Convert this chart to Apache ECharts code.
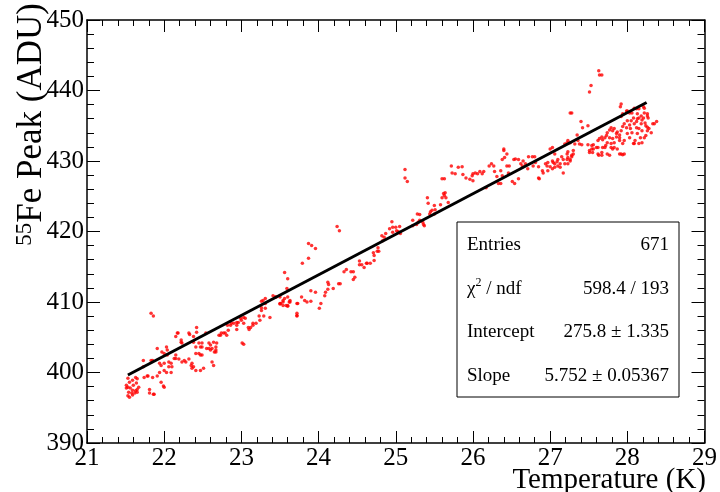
<!DOCTYPE html>
<html><head><meta charset="utf-8">
<script src="https://cdn.jsdelivr.net/npm/echarts@6/dist/echarts.min.js"></script>
<style>html,body{margin:0;padding:0;background:#fff}#c{width:720px;height:492px}</style>
</head><body><div id="c"></div>
<script>
// ---- data (Temperature K, 55Fe peak ADU) ----
const pts21to23 = [[21.53,399.2],[21.55,398.6],[21.59,398.9],[21.63,399.3],[21.65,399.1],[21.64,398.5],[21.60,398.2],[21.53,397.9],[21.51,397.8],[21.56,397.8],[21.59,397.5],[21.63,397.4],[21.65,397.6],[21.54,397.2],[21.58,397.1],[21.62,397.1],[21.65,397.2],[21.53,396.7],[21.55,396.5],[21.59,396.8],[21.67,397.9],[21.51,398.2],[21.74,399.3],[21.78,399.5],[21.85,399.3],[21.73,400.8],[21.81,397.1],[21.86,396.9],[21.91,399.5],[21.94,400.0],[21.96,398.6],[21.99,398.1],[21.91,403.4],[21.97,402.9],[22.03,403.6],[22.04,402.5],[21.83,401.7],[21.94,401.3],[22.00,400.3],[22.03,400.0],[22.06,400.8],[22.09,400.0],[22.06,401.5],[22.13,402.0],[22.15,405.1],[22.18,405.6],[22.22,404.6],[22.23,404.2],[22.15,402.5],[22.19,401.9],[22.23,401.5],[22.28,401.5],[22.32,405.6],[22.38,405.1],[22.42,406.4],[22.42,405.7],[22.54,405.6],[22.36,401.3],[22.38,400.8],[22.41,402.7],[22.45,402.7],[22.47,402.5],[22.45,404.2],[22.49,404.2],[22.47,403.6],[22.51,400.6],[22.55,403.4],[22.60,403.9],[22.62,403.4],[22.67,402.9],[22.68,404.2],[22.73,405.3],[22.77,405.6],[22.81,405.3],[22.83,406.0],[22.86,406.7],[22.35,401.0],[22.32,401.9],
[21.83,408.4],[21.86,408.0],[22.33,405.4],[22.58,404.2],[22.64,404.3],[22.67,403.6],[22.71,405.3],[22.74,405.6],[22.79,405.6],[22.82,406.7],[22.87,407.0],[22.94,406.1],[22.94,407.1],[22.99,407.7],[22.62,401.5],[22.64,401.0],[22.60,403.2],[22.47,400.3],[22.41,400.3],[22.36,400.6],[22.26,401.7],[22.15,402.0],[22.09,401.3],[22.10,400.8],[22.00,401.3],[21.96,401.0],[22.00,402.7],[22.04,403.2],[22.22,404.3],[22.17,405.6],[22.38,404.3],[22.41,403.6],[22.49,403.6],[22.49,402.5],[22.58,403.4],[22.65,402.9],[22.67,403.2],[21.73,401.7],[21.85,401.7],[21.79,399.5],[22.00,397.9],[21.81,397.6],[21.87,396.9],[22.90,407.0],[22.94,406.7],[22.96,407.1]];
const pts23to25 = [[23.03,407.8],[23.05,407.7],[23.09,406.4],[23.10,406.1],[23.15,406.7],[23.19,407.0],[23.01,404.2],[23.03,404.0],[23.24,407.4],[23.29,408.0],[23.37,407.8],[23.26,409.2],[23.31,409.8],[23.50,409.7],[23.54,410.0],[23.60,409.5],[23.63,410.0],[23.72,408.1],[23.72,408.4],[23.73,409.8],
[23.00,407.4],[23.03,407.0],[23.12,406.4],[23.15,407.0],[23.23,408.0],[23.26,408.8],[23.31,409.1],[23.28,410.2],[23.31,410.5],[23.26,410.1],[23.41,410.9],[23.44,410.7],[23.45,410.7],[23.50,410.7],[23.51,409.8],[23.54,410.2],[23.56,414.2],[23.60,413.3],[23.59,411.9],[23.60,410.7],[23.63,410.2],[23.62,410.0],[23.58,409.5],[23.54,409.5],[23.50,409.8],[23.72,409.8],[23.72,408.0],[23.78,410.7],[23.82,410.2],[23.85,410.0],[23.90,410.1],[23.79,415.5],[23.87,416.2],[23.90,411.6],[23.96,411.4],[24.03,409.8],[24.01,409.1],[24.08,410.9],[24.09,411.4],[24.12,411.8],[24.12,412.8],[24.13,412.5],[24.19,411.9],[24.26,412.6],[24.28,412.6],[24.33,414.3],[24.36,414.6],[24.42,414.3],[24.45,414.3],[24.47,413.5],[24.45,413.2],[24.53,415.8],[24.53,415.3],[24.56,415.3],[24.63,415.5],[24.67,415.5],[24.72,415.9],[24.59,414.9],[24.72,416.6],[24.71,417.0],[24.78,417.2],
[24.24,420.7],[24.27,420.1],[23.87,418.3],[23.91,418.0],[23.96,417.6],[23.56,410.5],[23.60,409.4],[24.62,415.5],[24.76,417.2],[24.77,417.7],[24.82,419.4],[24.85,419.2],[24.87,419.7],[24.83,418.7],[24.95,421.4],[24.92,420.4],[24.96,419.9],[24.96,420.6]];
const pts25to27 = [[25.01,420.1],[25.05,420.7],[25.00,420.6],[25.22,420.8],[25.22,421.6],[25.27,421.0],[25.35,421.3],[25.37,420.8],[25.31,421.6],[25.03,420.0],[25.06,419.7],[25.28,422.5],[25.31,422.4],[25.29,421.3],[25.36,421.0],[25.41,424.8],[25.42,424.0],[25.45,422.8],[25.44,422.5],[25.47,423.0],[25.50,423.7],[25.51,423.1],[25.50,422.5],[25.58,423.8],[25.60,424.8],[25.63,425.1],[25.64,425.5],[25.62,425.4],[25.65,424.8],[25.68,424.1],[25.60,427.5],[25.63,427.5],[25.12,428.8],[25.12,427.6],[25.15,427.1],[25.72,429.3],[25.73,428.3],[25.77,428.2],[25.81,429.1],[25.86,429.2],[25.87,428.1],[25.91,427.6],[25.96,427.4],[25.99,427.9],[26.00,427.2],[26.00,428.2],[26.03,428.3],[26.06,428.2],[26.09,428.5],[26.12,428.2],[26.14,428.5],[26.17,426.2],[26.21,429.3],[26.24,429.6],[26.27,429.3],[26.28,428.5],[26.31,427.8],[26.33,426.8],[26.36,426.8],[26.36,428.6],[26.38,427.9],[26.38,430.2],[26.41,430.5],[26.44,431.0],[26.44,429.3],[26.46,428.3],[26.47,429.3],[26.51,427.1],[26.54,426.8],[26.59,427.5],[26.53,430.2],[26.55,430.3],[26.59,430.2],[26.62,429.6],[26.64,429.3],[26.65,430.0],[26.68,429.6],[26.71,428.9],[26.72,430.6],[26.77,430.6],[26.80,430.6],[26.78,429.3],[26.81,429.8],[26.85,429.2],[26.85,427.6],[26.86,427.5],[26.90,428.6],[26.91,428.3],[26.94,429.6],[26.96,429.3],[26.97,428.6],[26.97,429.8],[26.40,431.5],[26.40,431.7]];
const pts27to29 = [[27.00,429.2],[27.03,430.0],[27.04,429.8],[27.06,429.6],[27.09,429.9],[27.10,430.2],[27.13,429.6],[27.15,430.6],[27.17,430.2],[27.19,429.6],[27.17,428.3],[27.22,431.0],[27.23,431.3],[27.26,430.2],[27.28,430.6],[27.30,431.0],[27.30,431.5],[27.51,431.2],[27.23,429.6],[27.10,429.3],[27.06,429.1],[27.03,428.9],[27.00,431.7],[27.03,431.9],[27.19,432.4],[27.22,432.6],[27.26,432.6],[27.32,432.4],[27.38,432.4],[27.49,432.3],[27.54,432.2],[27.55,431.2],[27.54,431.7],[27.23,432.9],[27.36,432.9],
[27.63,442.8],[27.64,442.2],[27.67,442.2],[27.53,440.7],[27.51,439.8],[27.26,436.8],[27.28,436.8],[27.40,435.6],[27.49,435.0],[27.42,434.7],[27.35,433.7],[27.41,432.3],[27.56,432.3],[27.51,431.5],[27.56,431.7],[27.62,431.9],[27.62,432.9],[27.64,433.2],[27.67,433.4],[27.68,433.0],[27.71,433.3],[27.73,433.6],[27.74,434.0],[27.77,434.4],[27.79,434.7],[27.81,434.3],[27.83,434.6],[27.86,433.9],[27.87,434.1],[27.90,433.7],[27.92,434.3],[27.94,434.9],[27.96,435.3],[27.99,434.7],[28.00,435.7],[28.03,435.1],[28.04,434.6],[28.05,435.7],[28.08,436.1],[28.09,435.3],[28.12,435.6],[28.13,436.0],[28.15,436.1],[28.18,436.4],[28.18,435.3],[28.19,435.8],[28.21,436.1],[28.22,436.8],[28.23,435.4],[28.24,435.0],[28.26,434.3],[28.28,434.6],[28.31,434.0],[28.33,435.3],[28.38,435.6],[28.24,433.6],[28.22,433.3],[28.17,433.3],[28.13,433.9],[28.10,432.9],[28.08,432.5],[27.96,432.9],[27.94,432.5],[27.90,432.9],[27.83,432.6],[27.79,432.5],[27.74,432.6],[27.72,432.2],[27.68,431.9],[27.79,431.9],[27.83,431.9],[27.87,431.7],[27.67,430.8],[27.63,430.8],[27.92,431.0],[27.96,431.0],[27.77,433.3],[27.81,433.2],[27.86,433.4],[27.90,433.3],[28.15,432.5],[28.12,434.7],[28.06,434.0],[28.03,433.3],[28.00,433.9],[28.15,434.6],[28.19,434.3],[28.13,436.7],[28.09,437.5],[28.03,436.8],[27.99,437.1],[27.91,437.7],[27.94,436.7],[27.92,436.3],[28.12,437.4],[28.15,437.4],[28.21,437.7],[28.26,436.7],[28.27,436.1],[27.06,431.0],[27.13,429.1],[27.22,430.2],[27.23,430.5],[27.26,430.0],[27.28,430.8],
[28.35,435.3],[28.26,434.8],[28.19,432.6],[28.09,432.5],[27.90,431.0],[27.94,430.9],[27.74,431.0],[27.77,430.8],[27.62,431.0],[27.67,431.2],[27.60,431.9],[27.71,431.9],[27.81,431.7],[27.92,438.1],[28.00,437.1],[28.06,436.8],[28.22,437.5],[28.26,436.4]];

// fit result (linear) and its drawn range
const fitIntercept = 275.8;
const fitSlope = 5.752;
const fitRange = [21.53, 28.25];

// stats box
const statLabels = ['Entries', 'chi2', 'Intercept', 'Slope'];
const statValues = ['671', '598.4 / 193', '275.8 \u00b1 1.335', '5.752 \u00b1 0.05367'];

// axes
const xRange = [21, 29], xStep = 1;
const yRange = [390, 450], yStep = 10;

const points = pts21to23.concat(pts23to25, pts25to27, pts27to29);
const fitLine = fitRange.map(x => [x, fitIntercept + fitSlope * x]);

const FONT = 'Liberation Serif';
const chart = echarts.init(document.getElementById('c'), null, {renderer: 'canvas'});

function axisCommon(showLabel) {
  return {
    axisLine: {show: true, onZero: false, lineStyle: {color: '#000', width: 1.5}},
    axisTick: {show: true, inside: true, length: 12, lineStyle: {color: '#000', width: 1}},
    minorTick: {show: true, splitNumber: 5, length: 6, lineStyle: {color: '#000', width: 1}},
    splitLine: {show: false},
    minorSplitLine: {show: false},
    axisLabel: {show: showLabel, color: '#000', fontFamily: FONT, fontSize: 25}
  };
}

const statsTexts = [];
const rowY = [245, 289, 332, 376];
statLabels.forEach((lab, i) => {
  const isChi = lab === 'chi2';
  statsTexts.push({
    type: 'text', x: 467, y: rowY[i], z: 20,
    style: isChi ? {
      text: '{t|\u03c7}{s|2}{t| / ndf}', textVerticalAlign: 'middle',
      rich: {t: {fontFamily: FONT, fontSize: 19, fill: '#000', lineHeight: 24}, s: {fontFamily: FONT, fontSize: 12, fill: '#000', verticalAlign: 'top', lineHeight: 14}}
    } : {text: lab, fontFamily: FONT, fontSize: 19, fill: '#000', textVerticalAlign: 'middle'}
  });
  statsTexts.push({
    type: 'text', x: 669, y: rowY[i], z: 20,
    style: {text: statValues[i], fontFamily: FONT, fontSize: 19, fill: '#000', textAlign: 'right', textVerticalAlign: 'middle'}
  });
});

chart.setOption({
  animation: false,
  backgroundColor: '#fff',
  grid: {left: 87, right: 11, top: 20, bottom: 49, containLabel: false},
  xAxis: [
    Object.assign({type: 'value', position: 'bottom', min: xRange[0], max: xRange[1], interval: xStep}, axisCommon(true),
      {axisLabel: {show: true, color: '#000', fontFamily: FONT, fontSize: 25, margin: 3}}),
    Object.assign({type: 'value', position: 'top', min: xRange[0], max: xRange[1], interval: xStep}, axisCommon(false))
  ],
  yAxis: [
    Object.assign({type: 'value', position: 'left', min: yRange[0], max: yRange[1], interval: yStep}, axisCommon(true),
      {axisTick: {show: true, inside: true, length: 13, lineStyle: {color: '#000', width: 1}},
       minorTick: {show: true, splitNumber: 5, length: 7, lineStyle: {color: '#000', width: 1}},
       axisLabel: {show: true, color: '#000', fontFamily: FONT, fontSize: 25, margin: 3}}),
    Object.assign({type: 'value', position: 'right', min: yRange[0], max: yRange[1], interval: yStep}, axisCommon(false),
      {axisTick: {show: true, inside: true, length: 13, lineStyle: {color: '#000', width: 1}},
       minorTick: {show: true, splitNumber: 5, length: 7, lineStyle: {color: '#000', width: 1}}})
  ],
  series: [
    {type: 'scatter', xAxisIndex: 0, yAxisIndex: 0, data: points, symbol: 'circle', symbolSize: 3.5,
      itemStyle: {color: '#ff0000'}, z: 3, silent: true},
    {type: 'line', xAxisIndex: 0, yAxisIndex: 0, data: fitLine, symbol: 'none',
      lineStyle: {color: '#000', width: 3}, z: 5, silent: true}
  ],
  graphic: [
    {type: 'text', x: 32, y: 3, rotation: Math.PI / 2, z: 20,
      style: {text: '{s|55}{m|Fe Peak (ADU)}', textAlign: 'right', textVerticalAlign: 'middle',
        rich: {s: {fontFamily: FONT, fontSize: 23, fill: '#000', verticalAlign: 'top', lineHeight: 22},
               m: {fontFamily: FONT, fontSize: 35, fill: '#000', lineHeight: 38}}}},
    {type: 'text', x: 706, y: 480, z: 20,
      style: {text: 'Temperature (K)', fontFamily: FONT, fontSize: 29, fill: '#000', textAlign: 'right', textVerticalAlign: 'middle'}},
    {type: 'rect', shape: {x: 457, y: 222, width: 222, height: 175}, z: 15,
      style: {fill: '#fff', stroke: '#000', lineWidth: 1}}
  ].concat(statsTexts)
});
</script></body></html>
